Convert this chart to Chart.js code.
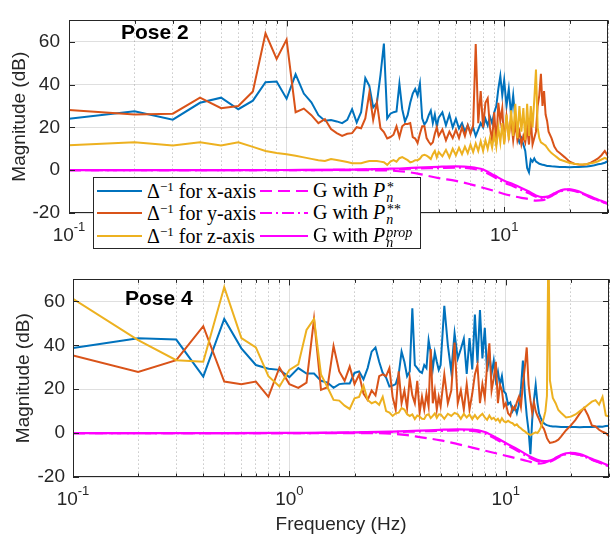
<!DOCTYPE html>
<html>
<head>
<meta charset="utf-8">
<script src="https://cdn.jsdelivr.net/npm/chart.js@4.4.1/dist/chart.umd.min.js"></script>
<style>
  html, body { margin: 0; padding: 0; background: #fff; }
  body { width: 610px; height: 546px; position: relative; overflow: hidden; }
  canvas { position: absolute; left: 0; }
  #topChart { top: 0; }
  #botChart { top: 260px; }
  .pose { position: absolute; font: bold 21px/21px "Liberation Sans", Arial, sans-serif; color: #000; }
  #legend {
    position: absolute; left: 93px; top: 177px; width: 328px; height: 72px;
    box-sizing: border-box; border: 1px solid #262626; background: #fff;
    font: 20px "Liberation Serif", "Times New Roman", serif; color: #000;
  }
  .entry { position: absolute; height: 22px; display: flex; align-items: center; white-space: nowrap; }
  .entry svg { margin-right: 5px; }
  .entry sup { font-size: 13px; line-height: 0; vertical-align: 7px; }
  .entry i { font-style: italic; }
  .stk { display: inline-block; font-size: 14px; line-height: 10px; vertical-align: -5px; font-style: italic; margin-left: 1px; }
  .stk span { display: block; }
</style>
</head>
<body>
<canvas id="topChart" width="610" height="260"></canvas>
<canvas id="botChart" width="610" height="286"></canvas>

<div class="pose" style="left:121px; top:21px;">Pose 2</div>
<div class="pose" style="left:125px; top:287px;">Pose 4</div>

<div id="legend">
  <div class="entry" style="left:3px; top:2px;">
    <svg width="45" height="6"><line x1="0" y1="3" x2="45" y2="3" stroke="#0072BD" stroke-width="2"/></svg>
    <span>Δ<sup>−1</sup> for x-axis</span>
  </div>
  <div class="entry" style="left:3px; top:24px;">
    <svg width="45" height="6"><line x1="0" y1="3" x2="45" y2="3" stroke="#D95319" stroke-width="2"/></svg>
    <span>Δ<sup>−1</sup> for y-axis</span>
  </div>
  <div class="entry" style="left:3px; top:47px;">
    <svg width="45" height="6"><line x1="0" y1="3" x2="45" y2="3" stroke="#EDB120" stroke-width="2"/></svg>
    <span>Δ<sup>−1</sup> for z-axis</span>
  </div>
  <div class="entry" style="left:166px; top:2px;">
    <svg width="48" height="6"><line x1="0" y1="3" x2="48" y2="3" stroke="#FF00FF" stroke-width="2" stroke-dasharray="12 6"/></svg>
    <span>G with <i>P</i><span class="stk"><span>*</span><span>n</span></span></span>
  </div>
  <div class="entry" style="left:166px; top:24px;">
    <svg width="48" height="6"><line x1="0" y1="3" x2="48" y2="3" stroke="#FF00FF" stroke-width="2" stroke-dasharray="12 4 2 4"/></svg>
    <span>G with <i>P</i><span class="stk"><span>**</span><span>n</span></span></span>
  </div>
  <div class="entry" style="left:166px; top:47px;">
    <svg width="48" height="6"><line x1="0" y1="3" x2="48" y2="3" stroke="#FF00FF" stroke-width="2"/></svg>
    <span>G with <i>P</i><span class="stk"><span>prop</span><span>n</span></span></span>
  </div>
</div>

<script>
// frequency points of the measured responses (Hz), shared by both poses
const freqHz = [
  0.1, 0.2, 0.3, 0.4, 0.5, 0.6, 0.7, 0.8, 0.9, 1.0,
  1.1, 1.2, 1.3, 1.4, 1.5, 1.6, 1.7, 1.8, 1.9, 2.0,
  2.1, 2.2, 2.3, 2.4, 2.5, 2.6, 2.7, 2.8, 2.9, 3.0,
  3.1, 3.2, 3.3, 3.4, 3.5, 3.6, 3.7, 3.8, 3.9, 4.0,
  4.1, 4.2, 4.3, 4.4, 4.5, 4.6, 4.7, 4.8, 4.9, 5.0,
  5.2, 5.4, 5.6, 5.8, 6.0, 6.2, 6.4, 6.6, 6.8, 7.0,
  7.2, 7.4, 7.6, 7.8, 8.0, 8.2, 8.4, 8.6, 8.8, 9.0,
  9.2, 9.4, 9.6, 9.8, 10, 10.25, 10.5, 10.75, 11, 11.25,
  11.5, 11.75, 12, 12.25, 12.5, 12.75, 13, 13.25, 13.5, 13.75,
  14, 14.25, 14.5, 14.75, 15, 15.25, 15.5, 15.75, 16, 16.5,
  17, 17.5, 18, 19, 20, 21, 22, 23, 24, 25,
  26, 27, 28, 29, 30
];

// Pose 2, inverse of delta (dB)
const pose2X = [
  24, 27.5, 23.6, 31.5, 33.9, 28.5, 32.5, 41.1, 41.4, 33.4,
  44.8, 35.8, 31.7, 25.7, 23.1, 23.5, 22.8, 22, 23.5, 28.5,
  22.3, 27.1, 43, 39.4, 29.3, 31.5, 44.4, 59.2, 24.2, 26.4,
  27.1, 27.5, 40.4, 28.5, 22.8, 25.7, 31.5, 35.8, 38, 34.9,
  40.5, 24.2, 21.3, 22.8, 25.7, 27.8, 22, 26, 20.5, 24.5,
  27, 21, 26, 20, 24, 19.5, 22, 18, 21, 17.5,
  20, 16, 19, 22, 20, 24, 21, 25, 22, 27,
  30, 38, 44, 35, 42, 30, 38, 26, 35, 24,
  16, 13, 15, 12, 9, 1, -1, 5, 4, 5.5,
  4, 3.5, 3, 2.8, 2.5, 2.4, 2.2, 2, 2, 1.8,
  1.7, 1.6, 1.5, 1.5, 1.4, 1.5, 1.5, 1.6, 1.7, 2,
  2.3, 2.8, 3, 3.5, 4.3
];
const pose2Y = [
  28.1, 26, 26.4, 33.9, 29, 30, 36.8, 64, 52, 61,
  27.1, 28.8, 25.7, 22, 23.9, 19.2, 17.3, 16, 17, 17.3,
  20.1, 19.6, 24.2, 36.2, 23.5, 31.7, 19.6, 17.8, 14.8, 15.5,
  16.6, 20.5, 15.5, 20.5, 21.6, 21.6, 22, 15.5, 14.8, 12.7,
  17, 20.5, 20.5, 15, 13.3, 12, 13, 17, 20, 16,
  19, 14, 18, 15, 19, 15, 20, 16, 21, 17,
  21, 59, 22, 37, 20, 31.5, 33.6, 20, 14, 27,
  12, 31.5, 23, 29, 13, 25, 16, 24, 14, 22,
  14, 18, 12, 16, 13, 20, 12, 24, 12, 15,
  18, 30, 35, 45, 30, 37, 26, 23, 18, 15,
  11, 9, 8, 6, 4, 3, 2.7, 2.5, 2.8, 3.5,
  4.5, 5.5, 7, 9, 6.5
];
const pose2Z = [
  11.6, 13.1, 11.6, 13, 11.6, 13, 10.9, 9, 8, 7.5,
  6.8, 6, 5.3, 4.7, 4.3, 5.2, 4.8, 4.3, 3.8, 3.3,
  3.3, 3.3, 3.8, 4.3, 4.3, 4.3, 4, 3.7, 2.5, 4,
  4.7, 4, 5.6, 6.1, 5.4, 4.7, 3.7, 4, 4.7, 4.7,
  5.4, 6.8, 7.2, 6.8, 6.1, 5.2, 7.5, 9, 6, 8.5,
  6.5, 9.5, 6, 10, 7, 10.5, 7.5, 11, 8, 12,
  8.5, 12.5, 9, 13.5, 9, 14, 10, 15, 10.5, 17,
  11, 20, 13, 22, 12, 26, 14, 28, 16, 31,
  15, 30, 18, 29, 14, 31, 16, 30, 20, 33,
  47, 20, 15, 13, 12.5, 12, 11.5, 10.5, 9.5, 8,
  7, 6, 5, 4.2, 3.4, 3, 2.8, 2.7, 2.9, 3.2,
  3.6, 4.2, 5, 5.8, 5
];

// Pose 4, inverse of delta (dB)
const pose4X = [
  38.8, 43.2, 42.6, 25.7, 52, 38.6, 31, 29.3, 28.8, 25.5,
  29.6, 27.1, 27.1, 23.8, 23, 20.6, 22.3, 22.6, 22.6, 27.4,
  28.1, 24.5, 29.6, 37.1, 39, 32.5, 27.4, 25.2, 21.2, 21.6,
  22.3, 26.7, 37.1, 32.5, 25.9, 28.1, 56.8, 31, 29.6, 28.1,
  27.4, 31, 29.6, 42.3, 36.5, 29.3, 36.8, 32.5, 28.8, 31,
  58, 40, 28, 45.5, 33.9, 38.3, 43, 27, 43.3, 29,
  54, 32, 56, 34, 48, 28, 36, 27, 33, 24,
  28, 22, 26, 19, 18, 13, 14, 10, 12, 9,
  13, 20, 33, 18, 8, 1, -9.6, 6, 15, 22,
  14, 9, 7, 5.5, 4.5, 4, 3.6, 3.4, 3.2, 3,
  3, 2.9, 2.8, 2.8, 2.8, 2.8, 2.7, 2.8, 2.8, 2.8,
  2.9, 3, 2.9, 3.2, 3.3
];
const pose4Y = [
  35.4, 27.8, 33.2, 48.7, 23.5, 22.3, 23.5, 16.5, 29.9, 22.3,
  20.6, 23, 52, 19.7, 20.9, 39.7, 28.1, 23.8, 30.3, 22.3,
  26.7, 18, 15.1, 19.4, 17.2, 25.9, 26.7, 25.9, 29.6, 16.5,
  10.7, 28.1, 13.6, 19.4, 11.4, 25.2, 17.2, 13.6, 23.8, 9.3,
  16.5, 10.7, 17.9, 12.2, 38.3, 13.6, 19.4, 10.7, 16.5, 12.2,
  26.7, 13.6, 19.4, 41.2, 13.6, 19.4, 10.7, 22.3, 10.7, 17.9,
  26.7, 31, 13.6, 22.3, 16, 31, 40.9, 19.4, 25, 32.5,
  13.6, 22, 19.4, 12, 13.6, 9, 7.8, 12, 10.7, 14,
  16.5, 12, 22.3, 30, 39, 22, 15, 9.3, 14, 10,
  8, 6.4, 4.5, 3, 2, 0, -2.3, -3.5, -4.5, -4.2,
  -3.8, -3, -1.6, 1.3, 3.5, 6, 9, 11.5, 8, 3.5,
  3, 1.5, 0.6, 0, -1.5
];
const pose4Z = [
  61.2, 42.3, 33.2, 32.5, 66.5, 43.3, 39, 25.9, 21.2, 28.8,
  31.3, 47, 52, 26.7, 20.9, 15.1, 14.8, 12.5, 11, 15.8,
  16.5, 21.6, 15.1, 13.6, 14.3, 12.9, 16.5, 10, 9.3, 7.8,
  9, 9.3, 11.4, 10.7, 8.6, 7.8, 8.5, 6.4, 8, 7.5,
  6.5, 6.4, 8.2, 8.6, 6.8, 7.8, 9, 7, 8.5, 8.6,
  6.5, 8.8, 7.8, 9.2, 8.6, 6.5, 8.8, 7.1, 8.5, 6.4,
  8.2, 6.5, 7.8, 8.8, 7.1, 6, 8, 6.4, 7, 5.7,
  6.5, 5, 6.8, 5.4, 4.9, 5.6, 4.9, 4.5, 3.5, 4,
  2.8, 2.2, 1.3, 0.8, 0, -0.5, -0.9, -0.5, 0, 0.3,
  0, 1, 2.5, 4.5, 7, 10, 17, 90, 24, 16,
  13.6, 10.5, 9.3, 7.1, 7.5, 8.5, 10, 11.4, 12.9, 14.3,
  15, 13, 16.5, 8, 7.5
];

// model curves G (dB)
const freqG = [0.1, 0.5, 1, 2, 3, 3.5, 4, 5, 6, 7, 8, 9, 10, 11, 12, 13, 14, 15, 16, 17, 18, 19, 20, 22, 24, 26, 28, 30];
const pose2GStar  = [0, 0, 0, 0, -0.2, -0.7, -1.6, -3.7, -5.0, -6.6, -8.2, -9.7, -11.1, -12.1, -12.9, -13.5, -14.2, -14.0, -12.8, -11.0, -9.8, -9.2, -9.1, -10.2, -11.9, -13.4, -14.6, -15.9];
const pose2GStar2 = [0, 0, 0, 0.2, 0.5, 0.6, 0.8, 1.0, 1.2, 0.8, -0.5, -3.2, -5.8, -7.5, -9.2, -10.8, -12.4, -13.1, -12.7, -11.3, -10.0, -9.4, -9.3, -10.3, -12.0, -13.5, -14.6, -15.8];
const pose2GProp  = [0, 0, 0.1, 0.3, 0.7, 0.9, 1.2, 1.6, 1.8, 1.5, 0.3, -2.4, -4.9, -6.6, -8.3, -10.0, -11.8, -12.6, -12.2, -10.8, -9.6, -9.0, -8.9, -9.9, -11.6, -13.1, -14.3, -15.5];
const pose4GStar  = [0, 0, 0, 0, -0.3, -0.9, -1.8, -3.3, -5.0, -6.6, -8.0, -9.2, -10.3, -11.3, -12.2, -13.1, -13.9, -13.6, -12.5, -11.2, -10.2, -9.5, -9.3, -9.9, -11.3, -12.7, -13.9, -15.1];
const pose4GStar2 = [0, 0, 0, 0.2, 0.5, 0.6, 0.8, 1.0, 1.2, 1.0, -0.2, -2.7, -5.3, -7.4, -9.5, -11.4, -12.8, -13.3, -13.0, -11.8, -10.4, -9.6, -9.4, -10.0, -11.4, -12.8, -14.0, -15.2];
const pose4GProp  = [0, 0, 0.1, 0.3, 0.7, 0.9, 1.1, 1.5, 1.7, 1.6, 0.5, -2.0, -4.5, -6.7, -8.8, -10.8, -12.2, -12.8, -12.5, -11.4, -10.0, -9.2, -9.0, -9.6, -11.0, -12.4, -13.6, -14.8];

// axis ticks
const xTicks = [0.1, 0.2, 0.3, 0.4, 0.5, 0.6, 0.7, 0.8, 0.9, 1, 2, 3, 4, 5, 6, 7, 8, 9, 10, 20, 30];
const yTicks = [-20, 0, 20, 40, 60];
const decades = [0.1, 1, 10];
const decadeExp = ['-1', '0', '1'];

const colors = { x: '#0072BD', y: '#D95319', z: '#EDB120', g: '#FF00FF' };
const sans = '"Liberation Sans", Arial, sans-serif';
const axisColor = '#262626';
const majorGrid = 'rgba(38, 38, 38, 0.15)';
const minorGrid = 'rgba(38, 38, 38, 0.25)';

const isDecade = v => Math.abs(Math.log10(v) - Math.round(Math.log10(v))) < 1e-9;
const pts = (xs, ys) => xs.map((x, i) => ({ x, y: ys[i] }));

// box, inward ticks and 10^n labels like the matlab axes
const axisDecor = {
    id: 'axisDecor',
    afterDraw(chart) {
        const { ctx, chartArea: a, scales: { x, y } } = chart;
        ctx.save();
        ctx.strokeStyle = axisColor;
        ctx.lineWidth = 1;
        ctx.beginPath();
        x.ticks.forEach(t => {
            const px = Math.round(x.getPixelForValue(t.value)) + 0.5;
            const len = isDecade(t.value) ? 6 : 3.5;
            ctx.moveTo(px, a.bottom); ctx.lineTo(px, a.bottom - len);
            ctx.moveTo(px, a.top); ctx.lineTo(px, a.top + len);
        });
        y.ticks.forEach(t => {
            const py = Math.round(y.getPixelForValue(t.value)) + 0.5;
            ctx.moveTo(a.left, py); ctx.lineTo(a.left + 6, py);
            ctx.moveTo(a.right, py); ctx.lineTo(a.right - 6, py);
        });
        ctx.stroke();
        ctx.strokeRect(Math.round(a.left) + 0.5, Math.round(a.top) + 0.5,
            Math.round(a.right - a.left) - 1, Math.round(a.bottom - a.top) - 1);

        ctx.fillStyle = axisColor;
        ctx.textBaseline = 'alphabetic';
        decades.forEach((v, i) => {
            const px = x.getPixelForValue(v);
            ctx.font = `19px ${sans}`;
            const w1 = ctx.measureText('10').width;
            ctx.font = `13px ${sans}`;
            const w2 = ctx.measureText(decadeExp[i]).width;
            const x0 = px - (w1 + w2) / 2;
            const base = a.bottom + 28;
            ctx.font = `19px ${sans}`;
            ctx.fillText('10', x0, base);
            ctx.font = `13px ${sans}`;
            ctx.fillText(decadeExp[i], x0 + w1, base - 10);
        });
        ctx.restore();
    }
};

const deltaLine = (data, color, order) => ({
    data, borderColor: color, borderWidth: 2, pointRadius: 0, tension: 0, order
});
const gLine = (data, dash, order) => ({
    data, borderColor: colors.g, borderWidth: 2.2, borderDash: dash,
    pointRadius: 0, cubicInterpolationMode: 'monotone', order
});

function makePanel(canvasId, s, p) {
    return new Chart(document.getElementById(canvasId), {
        type: 'line',
        data: {
            datasets: [
                deltaLine(pts(freqHz, s.x), colors.x, 6),
                deltaLine(pts(freqHz, s.y), colors.y, 5),
                deltaLine(pts(freqHz, s.z), colors.z, 4),
                gLine(pts(freqG, s.gStar), [12, 6], 3),
                gLine(pts(freqG, s.gStar2), [12, 4, 2, 4], 2),
                gLine(pts(freqG, s.gProp), [], 1)
            ]
        },
        options: {
            responsive: false,
            animation: false,
            layout: { padding: { top: p.padTop, right: p.padRight, left: 0, bottom: 0 } },
            plugins: { legend: { display: false }, tooltip: { enabled: false } },
            scales: {
                x: {
                    type: 'logarithmic',
                    min: 0.1,
                    max: 30,
                    afterBuildTicks: sc => { sc.ticks = xTicks.map(v => ({ value: v, major: isDecade(v) })); },
                    afterFit: sc => { sc.height = p.xHeight; },
                    ticks: { display: false },
                    grid: {
                        drawTicks: false,
                        lineWidth: 1,
                        color: c => (c.tick && !isDecade(c.tick.value)) ? minorGrid : majorGrid
                    },
                    border: {
                        display: false,
                        dash: c => (c.tick && !isDecade(c.tick.value)) ? [1.5, 2.5] : []
                    },
                    title: {
                        display: p.xTitle,
                        text: 'Frequency (Hz)',
                        color: axisColor,
                        font: { size: 19, family: sans },
                        padding: { top: 0, bottom: 10 }
                    }
                },
                y: {
                    min: -20,
                    max: 70,
                    afterBuildTicks: sc => { sc.ticks = yTicks.map(v => ({ value: v })); },
                    afterFit: sc => { sc.width = p.yWidth; },
                    ticks: { color: axisColor, font: { size: 19, family: sans }, padding: p.yPad },
                    grid: { drawTicks: false, color: majorGrid, lineWidth: 1 },
                    border: { display: false },
                    title: {
                        display: true,
                        text: 'Magnitude (dB)',
                        color: axisColor,
                        font: { size: 19, family: sans },
                        padding: { top: p.yTitlePad, bottom: 0 }
                    }
                }
            }
        },
        plugins: [axisDecor]
    });
}

makePanel('topChart',
    { x: pose2X, y: pose2Y, z: pose2Z, gStar: pose2GStar, gStar2: pose2GStar2, gProp: pose2GProp },
    { padTop: 7, padRight: 2, xHeight: 47, yWidth: 69, yPad: 9, yTitlePad: 8, xTitle: false });

makePanel('botChart',
    { x: pose4X, y: pose4Y, z: pose4Z, gStar: pose4GStar, gStar2: pose4GStar2, gProp: pose4GProp },
    { padTop: 10, padRight: 1, xHeight: 69, yWidth: 73, yPad: 8, yTitlePad: 12, xTitle: true });
</script>
</body>
</html>
